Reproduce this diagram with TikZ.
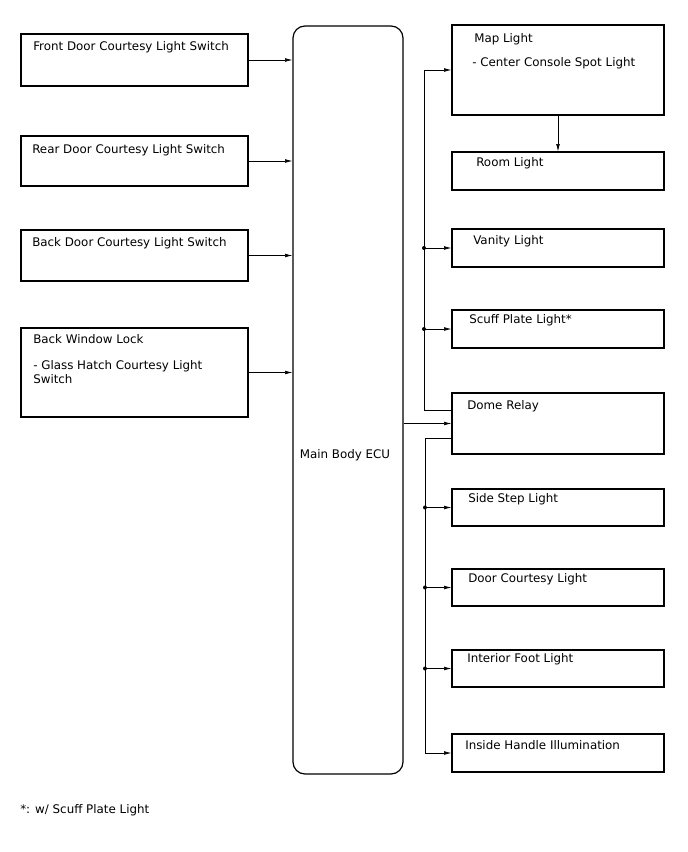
\documentclass[tikz,border=0pt]{standalone}
\usepackage{fontspec}
\setmainfont{DejaVu Sans}
\usetikzlibrary{fit,arrows.meta}
\tikzset{
  box/.style={draw, line width=0.9pt, inner sep=0pt, fit={#1}},
  lbl/.style={anchor=west, inner sep=0pt, yshift=-1.1pt, font=\fontsize{8.9}{10.5}\selectfont},
  conn/.style={line width=0.5pt},
  arr/.style={conn, -{Latex[length=5.5pt,width=2.8pt]}},
  jdot/.style={circle, fill, inner sep=0pt, minimum size=3pt}
}
\begin{document}
\begin{tikzpicture}[x=0.75pt,y=-0.75pt]
\useasboundingbox (0,0) rectangle (688,852);
% left boxes
\node[box={(21,34)(248,86)}] (front) {};
\node[lbl] (tfront) at (33,46) {Front Door Courtesy Light Switch};
\node[box={(21,136)(248,186)}] (rear) {};
\node[lbl] (trear) at (32,149) {Rear Door Courtesy Light Switch};
\node[box={(21,230)(248,281)}] (back) {};
\node[lbl] (tback) at (32,242) {Back Door Courtesy Light Switch};
\node[box={(21,328)(248,417)}] (bwl) {};
\node[lbl] (tbwl) at (33,338) {Back Window Lock};
\node[lbl, align=left, anchor=north west] (tbwl2) at (33,359) {- Glass Hatch Courtesy Light\\Switch};
% ECU
\node[draw, line width=0.9pt, rounded corners=9pt, inner sep=0pt, fit={(293,26)(403,774)}] (ecu) {};
\node[lbl, anchor=center] (tecu) at (345,454) {Main Body ECU};
% right boxes
\node[box={(452,25)(664,115)}] (map) {};
\node[lbl] (tmap) at (474,38) {Map Light};
\node[lbl] (tmap2) at (472,62) {- Center Console Spot Light};
\node[box={(452,152)(664,190)}] (room) {};
\node[lbl] (troom) at (476,162) {Room Light};
\node[box={(452,229)(664,267)}] (vanity) {};
\node[lbl] (tvanity) at (473,240) {Vanity Light};
\node[box={(452,310)(664,348)}] (scuff) {};
\node[lbl] (tscuff) at (469,319) {Scuff Plate Light*};
\node[box={(452,393)(664,454)}] (dome) {};
\node[lbl] (tdome) at (467,405) {Dome Relay};
\node[box={(452,489)(664,526)}] (side) {};
\node[lbl] (tside) at (468,498) {Side Step Light};
\node[box={(452,569)(664,606)}] (door) {};
\node[lbl] (tdoor) at (468,578) {Door Courtesy Light};
\node[box={(452,650)(664,687)}] (foot) {};
\node[lbl] (tfoot) at (467,658) {Interior Foot Light};
\node[box={(452,734)(664,772)}] (handle) {};
\node[lbl] (thandle) at (465,744) {Inside Handle Illumination};
% footnote
\node[lbl] (note) at (20,809) {*: w/ Scuff Plate Light};
% left connectors
\draw[arr] (front) -- (front -| ecu.west);
\draw[arr] (rear) -- (rear -| ecu.west);
\draw[arr] (back) -- (back -| ecu.west);
\draw[arr] (bwl) -- (bwl -| ecu.west);
% right connectors
\coordinate (dU) at (452,410);
\coordinate (dL) at (452,438);
\coordinate (jU) at (424,410);
\coordinate (jL) at (425,438);
\draw[arr] (ecu.east |- dome.west) -- (dome.west);
\draw[arr] (dU) -- (jU) |- (map.west);
\draw[arr] (dL) -- (jL) |- (handle.west);
\draw[arr] (map.south) -- (room.north);
\draw[arr] (jU |- vanity.west) -- (vanity.west);
\draw[arr] (jU |- scuff.west) -- (scuff.west);
\draw[arr] (jL |- side.west) -- (side.west);
\draw[arr] (jL |- door.west) -- (door.west);
\draw[arr] (jL |- foot.west) -- (foot.west);
\node[jdot] (d1) at (jU |- vanity.west) {};
\node[jdot] (d2) at (jU |- scuff.west) {};
\node[jdot] (d3) at (jL |- side.west) {};
\node[jdot] (d4) at (jL |- door.west) {};
\node[jdot] (d5) at (jL |- foot.west) {};
\end{tikzpicture}
\end{document}
